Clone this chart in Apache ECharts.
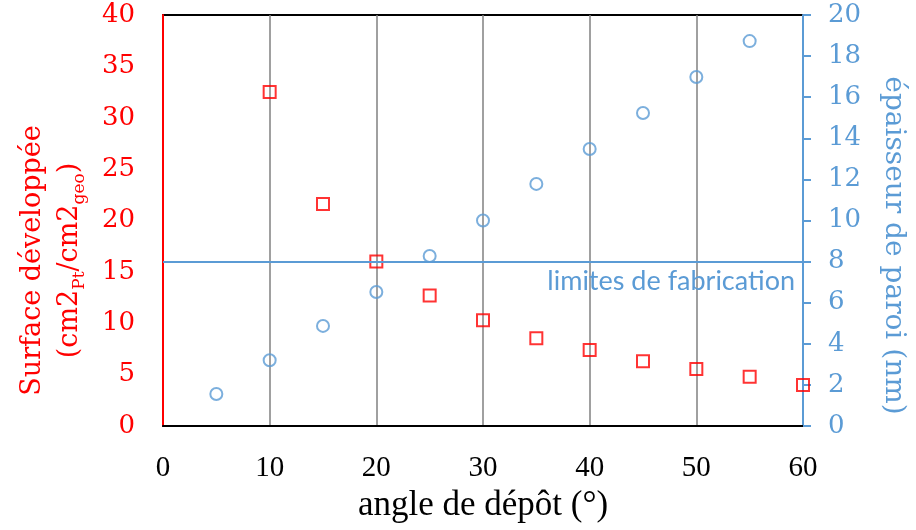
<!DOCTYPE html>
<html lang="fr">

<head>
  <meta charset="UTF-8">
  <title>Surface développée / épaisseur de paroi</title>
  <style>
    html,
    body {
      margin: 0;
      padding: 0;
      background-color: #fff;
    }

    #chart {
      width: 916px;
      height: 530px;
    }
  </style>
</head>

<body>
  <div id="chart"></div>
  <script src="https://cdn.jsdelivr.net/npm/echarts@6/dist/echarts.min.js"></script>
  <script>
    // angle de dépôt (°)
    const angleSurface = [10, 15, 20, 25, 30, 35, 40, 45, 50, 55, 60]
    const surface = [32.5, 21.6, 16.0, 12.7, 10.3, 8.55, 7.4, 6.3, 5.55, 4.8, 4.0]
    const angleEpaisseur = [5, 10, 15, 20, 25, 30, 35, 40, 45, 50, 55]
    const epaisseur = [1.56, 3.2, 4.87, 6.52, 8.27, 10.0, 11.78, 13.48, 15.23, 16.98, 18.73]
    const limiteFabrication = 8

    const red = '#ff0000'
    const blue = '#5b9bd5'
    const serif = '"DejaVu Serif", "Liberation Serif", serif'
    const serifNarrow = '"Liberation Serif", serif'

    const myChart = echarts.init(document.getElementById('chart'))

    const option = {
      animation: false,
      grid: {
        left: 163,
        right: 113,
        top: 15,
        bottom: 104,
        show: true,
        borderColor: '#000',
        borderWidth: 2
      },
      xAxis: {
        type: 'value',
        min: 0,
        max: 60,
        interval: 10,
        name: 'angle de dépôt (°)',
        nameLocation: 'middle',
        nameGap: 58,
        nameTextStyle: { color: '#000', fontSize: 35, fontFamily: serifNarrow },
        axisLine: { lineStyle: { color: '#000', width: 2 } },
        axisTick: { show: false },
        axisLabel: { color: '#000', fontSize: 29, fontFamily: serifNarrow, margin: 28 },
        splitLine: { show: true, lineStyle: { color: '#808080', width: 1.5 } }
      },
      yAxis: [
        {
          type: 'value',
          min: 0,
          max: 40,
          interval: 5,
          position: 'left',
          name: '{a|Surface développée}\n{a|(cm2}{s|Pt}{a|/cm2}{s|geo}{a|)}',
          nameLocation: 'middle',
          nameGap: 75,
          nameRotate: 90,
          nameTextStyle: {
            color: red,
            fontFamily: serif,
            padding: [0, 80, 0, 0],
            rich: {
              a: { color: red, fontSize: 27, fontFamily: serif, lineHeight: 37 },
              s: { color: red, fontSize: 17, fontFamily: serif, lineHeight: 37, verticalAlign: 'bottom' }
            }
          },
          axisLine: { show: true, lineStyle: { color: red, width: 2 } },
          axisTick: { show: false },
          axisLabel: { color: red, fontSize: 26, fontFamily: serif, margin: 28 },
          splitLine: { show: false }
        },
        {
          type: 'value',
          min: 0,
          max: 20,
          interval: 2,
          position: 'right',
          name: 'épaisseur de paroi (nm)',
          nameLocation: 'middle',
          nameGap: 76,
          nameRotate: -90,
          nameTextStyle: {
            color: blue,
            fontSize: 28,
            fontFamily: serif,
            padding: [0, 0, 0, 50]
          },
          axisLine: { show: true, lineStyle: { color: blue, width: 2 } },
          axisTick: { show: true, inside: false, length: 8, lineStyle: { color: blue, width: 2 } },
          axisLabel: { color: blue, fontSize: 26, fontFamily: serif, margin: 25 },
          splitLine: { show: false }
        }
      ],
      series: [
        {
          name: 'Surface développée',
          type: 'scatter',
          yAxisIndex: 0,
          clip: false,
          symbol: 'rect',
          symbolSize: 12,
          itemStyle: { color: 'rgba(255,255,255,0)', borderColor: red, borderWidth: 2 },
          data: angleSurface.map((a, i) => [a, surface[i]]),
          z: 4
        },
        {
          name: 'épaisseur de paroi',
          type: 'scatter',
          yAxisIndex: 1,
          clip: false,
          symbol: 'circle',
          symbolSize: 12,
          itemStyle: { color: 'rgba(255,255,255,0)', borderColor: blue, borderWidth: 2 },
          data: angleEpaisseur.map((a, i) => [a, epaisseur[i]]),
          markLine: {
            silent: true,
            symbol: 'none',
            lineStyle: { color: blue, width: 2, type: 'solid' },
            label: {
              position: 'insideEndBottom',
              formatter: 'limites de fabrication',
              color: blue,
              fontSize: 27,
              fontFamily: 'Lato, "Open Sans", sans-serif',
              distance: [8, 6]
            },
            data: [{ yAxis: limiteFabrication }]
          },
          z: 3
        }
      ]
    }

    myChart.setOption(option)
  </script>
</body>

</html>
